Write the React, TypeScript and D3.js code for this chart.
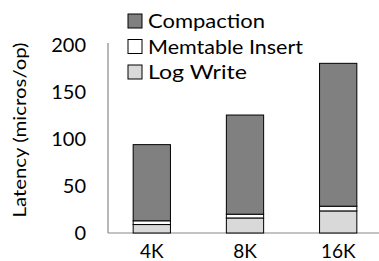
import React from 'react';
import * as d3 from 'd3';

const categories = ['4K', '8K', '16K'];
const logWrite = [9, 16, 23.5];
const memtableInsert = [4, 4, 5];
const compaction = [81, 105.5, 152];
const seriesNames = ['Log Write', 'Memtable Insert', 'Compaction'];
const yTicks = [0, 50, 100, 150, 200];
const legendNames = ['Compaction', 'Memtable Insert', 'Log Write'];

const colors: Record<string, string> = {
  'Log Write': '#d9d9d9',
  'Memtable Insert': '#ffffff',
  'Compaction': '#808080',
};

// widths of the legend labels as seen in the original (Gill Sans is narrower than Lato)
const legendWidths: Record<string, number> = {
  'Compaction': 117,
  'Memtable Insert': 155,
  'Log Write': 99,
};

const W = 379;
const H = 261;
const FONT = 'Lato, sans-serif';

export default function App() {
  const x = d3.scaleBand().domain(categories).range([108, 382]).paddingInner(0.6).paddingOuter(0.27);
  const y = d3.scaleLinear().domain([0, 200]).range([233, 45]);

  const rows = categories.map((c, i) => ({
    cat: c,
    'Log Write': logWrite[i],
    'Memtable Insert': memtableInsert[i],
    'Compaction': compaction[i],
  }));
  const stacked = d3.stack<any>().keys(seriesNames)(rows);

  return (
    <svg width={W} height={H} style={{ position: 'absolute', left: 0, top: 0, background: '#fff' }}>
      {/* axes */}
      <line x1={108} x2={108} y1={43} y2={233} stroke="#888" strokeWidth={1.2} />
      <line x1={108} x2={379} y1={233} y2={233} stroke="#888" strokeWidth={1.2} />
      {yTicks.map((t) => (
        <text key={t} x={86} y={y(t)} dy="0.35em" textAnchor="end" fontFamily={FONT} fontSize={20} fill="#000">
          {t}
        </text>
      ))}
      {categories.map((c) => (
        <text key={c} x={x(c)! + x.bandwidth() / 2} y={258} textAnchor="middle" fontFamily={FONT} fontSize={19} fill="#000">
          {c}
        </text>
      ))}
      <text transform={`translate(20,130) rotate(-90)`} textAnchor="middle" dy="0.35em" fontFamily={FONT} fontSize={18}
        textLength={175} lengthAdjust="spacingAndGlyphs" fill="#000">
        Latency (micros/op)
      </text>

      {/* bars */}
      {stacked.map((s) =>
        s.map((d, i) => (
          <rect
            key={s.key + i}
            x={x(categories[i])}
            y={y(d[1])}
            width={x.bandwidth()}
            height={y(d[0]) - y(d[1])}
            fill={colors[s.key]}
            stroke="#000"
            strokeWidth={1}
          />
        ))
      )}

      {/* legend */}
      {legendNames.map((name, i) => (
        <g key={name} transform={`translate(128,${21 + i * 25.5})`}>
          <rect x={0} y={-7} width={14} height={14} fill={colors[name]} stroke="#000" strokeWidth={1} />
          <text x={20} y={0} dy="0.35em" fontFamily={FONT} fontSize={20} fill="#000"
            textLength={legendWidths[name]} lengthAdjust="spacingAndGlyphs">
            {name}
          </text>
        </g>
      ))}
    </svg>
  );
}
